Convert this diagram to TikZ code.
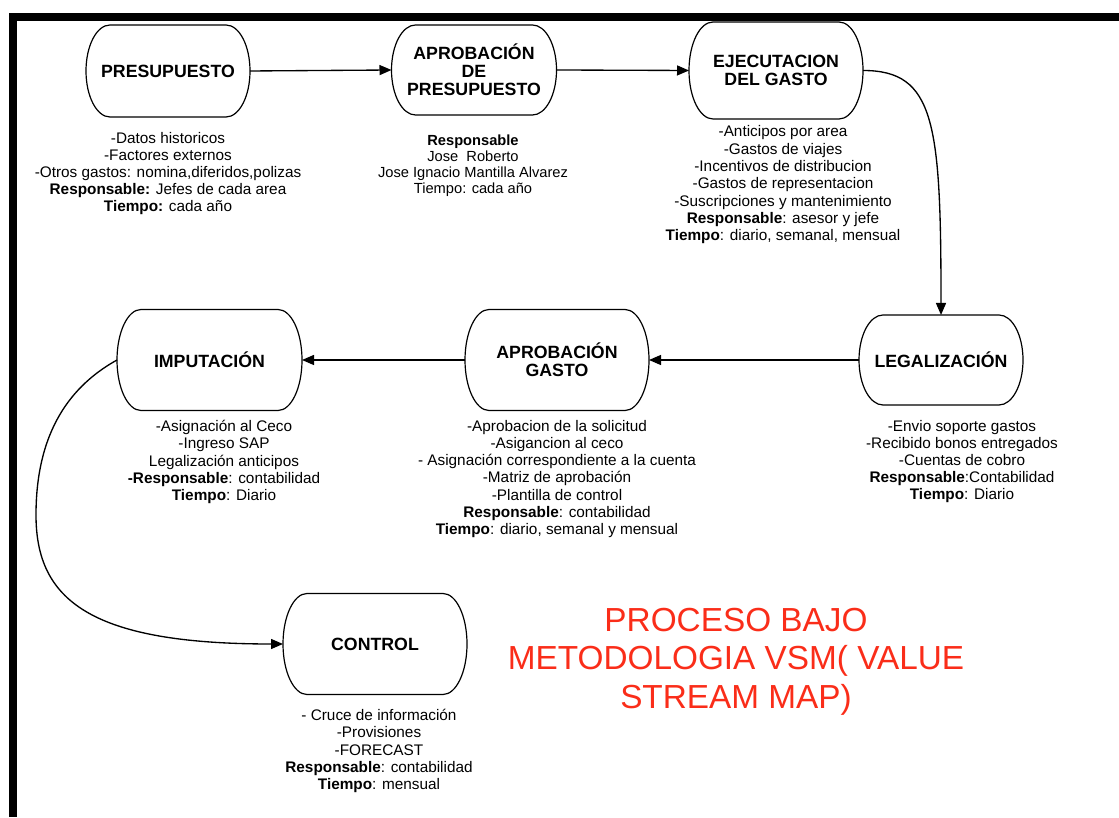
\documentclass[tikz,border=0pt]{standalone}
\usepackage{fontspec}
\setmainfont{Liberation Sans}
\usetikzlibrary{calc,arrows.meta}
\definecolor{vsmrojo}{RGB}{250,45,25}

\begin{document}
\begin{tikzpicture}[x=7.5pt, y=7.5pt,
    etapa/.style 2 args={minimum width=#1*7.5pt, minimum height=#2*7.5pt, inner sep=0pt, outer sep=0pt,
        align=center, font=\bfseries\fontsize{13.3}{13.5}\selectfont},
    nota/.style={align=center, inner sep=0pt, font=\fontsize{11.5}{12.9}\selectfont},
    flecha/.style={-{Triangle[length=9pt,width=7.5pt]}, line width=1pt},
    borde/.style={line width=0.9pt}]
    % Parameters
    \def\rx{2.4}

    % Frame (only top and left are visible)
    \useasboundingbox (0,0) rectangle (111.9,81.7);
    \fill (0.9,0) rectangle (1.7,80.4);
    \fill (0.9,79.6) rectangle (111.9,80.4);

    % Stages, first row
    \node[etapa={16.4}{9.2}] (pres) at (16.8,74.6) {PRESUPUESTO};
    \node[etapa={16.5}{9.0}] (aprob) at (47.4,74.7) {APROBACIÓN\\DE\\PRESUPUESTO};
    \node[etapa={17.4}{9.7}] (ejec) at (77.6,74.65) {EJECUTACION\\DEL GASTO};

    % Stages, second row
    \node[etapa={16.4}{9.0}] (legal) at (94.1,45.7) {LEGALIZACIÓN};
    \node[etapa={18.4}{10.1}] (aprobg) at (55.7,45.7) {APROBACIÓN\\GASTO};
    \node[etapa={18.5}{10.1}] (imput) at (20.95,45.7) {IMPUTACIÓN};

    % Last stage
    \node[etapa={18.4}{10.1}] (control) at (37.5,17.3) {CONTROL};

    % Outlines with elliptic ends
    \foreach \n/\ry in {pres/4.6, aprob/4.5, ejec/4.85, legal/4.5, aprobg/5.05, imput/5.05, control/5.05}
        \draw[borde] ($(\n.north west)+(\rx,0)$) arc[start angle=90, end angle=270, x radius=\rx, y radius=\ry]
            -- ($(\n.south east)+(-\rx,0)$) arc[start angle=-90, end angle=90, x radius=\rx, y radius=\ry] -- cycle;

    % Notes under each stage
    \node[nota] (npres) at (16.8,64.35) {-Datos historicos\\-Factores externos\\-Otros gastos: nomina,diferidos,polizas\\\textbf{Responsable:} Jefes de cada area\\\textbf{Tiempo:} cada año};
    \node[nota, font=\fontsize{11}{12}\selectfont] (naprob) at (47.3,65.15) {\textbf{Responsable}\\Jose\ \ Roberto\\Jose Ignacio Mantilla Alvarez\\Tiempo: cada año};
    \node[nota, font=\fontsize{11.5}{13}\selectfont] (nejec) at (78.3,63.2) {-Anticipos por area\\-Gastos de viajes\\-Incentivos de distribucion\\-Gastos de representacion\\-Suscripciones y mantenimiento\\\textbf{Responsable}: asesor y jefe\\\textbf{Tiempo}: diario, semanal, mensual};
    \node[nota] (nlegal) at (96.2,35.55) {-Envio soporte gastos\\-Recibido bonos entregados\\-Cuentas de cobro\\\textbf{Responsable}:Contabilidad\\\textbf{Tiempo}: Diario};
    \node[nota] (naprobg) at (55.7,33.8) {-Aprobacion de la solicitud\\-Asigancion al ceco\\- Asignación correspondiente a la cuenta\\-Matriz de aprobación\\-Plantilla de control\\\textbf{Responsable}: contabilidad\\\textbf{Tiempo}: diario, semanal y mensual};
    \node[nota] (nimput) at (22.4,35.5) {-Asignación al Ceco\\-Ingreso SAP\\Legalización anticipos\\\textbf{-Responsable}: contabilidad\\\textbf{Tiempo}: Diario};
    \node[nota] (ncontrol) at (37.9,6.6) {- Cruce de información\\-Provisiones\\-FORECAST\\\textbf{Responsable}: contabilidad\\\textbf{Tiempo}: mensual};

    % Title
    \node[align=center, text=vsmrojo, font=\fontsize{25}{29}\selectfont] (titulo) at (73.6,15.55)
        {PROCESO BAJO\\METODOLOGIA VSM( VALUE\\STREAM MAP)};

    % Flow
    \draw[flecha] (pres.east) -- (aprob.west);
    \draw[flecha] (aprob.east) -- (ejec.west);
    \draw[flecha] (ejec.east) .. controls +(7.2,0) and +(0,19.2) .. (legal.north);
    \draw[flecha] (legal.west) -- (aprobg.east);
    \draw[flecha] (aprobg.west) -- (imput.east);
    \coordinate (giro) at (3.6,30.2);
    \draw[flecha] (imput.west) .. controls +(-4.5,-2.5) and (3.6,38.7) .. (giro)
        .. controls (3.6,21.7) and +(-19.3,0) .. (control.west);
\end{tikzpicture}
\end{document}
